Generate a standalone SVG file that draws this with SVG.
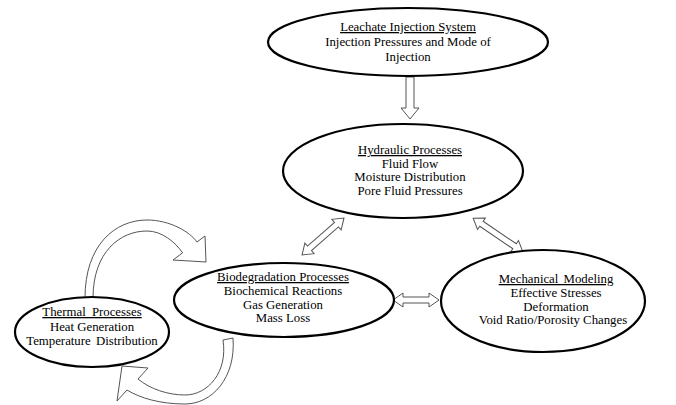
<svg xmlns="http://www.w3.org/2000/svg" width="676" height="405" viewBox="0 0 676 405">
<style>
.node ellipse{fill:#fff;stroke:#000;stroke-width:2.2}
text{font-family:"Liberation Serif","Times New Roman",serif;font-size:12.8px;fill:#000;text-anchor:middle}
.u{text-decoration:underline}
.arr{fill:#fff;stroke:#555;stroke-width:1;stroke-linejoin:miter}
</style>
<rect width="676" height="405" fill="#fff"/>
<g id="connectors">
<path class="arr" d="M406 77 L414 77 L414 108 L419 108 L410 119 L401 108 L406 108 Z"/>
<path class="arr" transform="translate(323,236.5) rotate(-41.4)" d="M-28 0 L-18 -7 L-18 -3 L18 -3 L18 -7 L28 0 L18 7 L18 3 L-18 3 L-18 7 Z"/>
<path class="arr" transform="translate(498,235) rotate(34.2)" d="M-30 0 L-20 -7 L-20 -3 L20 -3 L20 -7 L30 0 L20 7 L20 3 L-20 3 L-20 7 Z"/>
<path class="arr" transform="translate(416,300)" d="M-23 0 L-13 -7 L-13 -3 L13 -3 L13 -7 L23 0 L13 7 L13 3 L-13 3 L-13 7 Z"/>
<path class="arr" d="M85 298 C85 245 115 220 147 220 C170 220 190 232 197 242 L205 236 L206 262 L173 260 L182.6 252.8 C175 242 162 231 147 231 C120 231 93 252 93 298 Z"/>
<path class="arr" d="M233 338 C236 378 212 404 185 404 C160 404 140 398 127 390 L117 401 L122 366 L148 368 L138 379 C150 389 168 395 185 395 C208 395 228 372 223 340 Z"/>
</g>
<g id="leachate" class="node">
<ellipse cx="408" cy="42" rx="140" ry="34"/>
<text x="408" y="31"><tspan class="u">Leachate Injection System</tspan></text>
<text x="408" y="46">Injection Pressures and Mode of</text>
<text x="408" y="61">Injection</text>
</g>
<g id="hydraulic" class="node">
<ellipse cx="403" cy="171" rx="120" ry="47"/>
<text x="410" y="154"><tspan class="u">Hydraulic Processes</tspan></text>
<text x="410" y="167.5">Fluid Flow</text>
<text x="410" y="181">Moisture Distribution</text>
<text x="410" y="194.5">Pore Fluid Pressures</text>
</g>
<g id="biodegradation" class="node">
<ellipse cx="284" cy="300" rx="110" ry="37"/>
<text x="283" y="281"><tspan class="u">Biodegradation Processes</tspan></text>
<text x="283" y="295">Biochemical Reactions</text>
<text x="283" y="308.5">Gas Generation</text>
<text x="283" y="322">Mass Loss</text>
</g>
<g id="thermal" class="node">
<ellipse cx="92" cy="332" rx="77" ry="35"/>
<text x="92" y="316" word-spacing="3"><tspan class="u">Thermal Processes</tspan></text>
<text x="92" y="330.5">Heat Generation</text>
<text x="92" y="345" word-spacing="2">Temperature Distribution</text>
</g>
<g id="mechanical" class="node">
<ellipse cx="543" cy="301" rx="102" ry="51"/>
<text x="556" y="283" word-spacing="2"><tspan class="u">Mechanical Modeling</tspan></text>
<text x="556" y="297">Effective Stresses</text>
<text x="556" y="310.5">Deformation</text>
<text x="553" y="324">Void Ratio/Porosity Changes</text>
</g>
</svg>
